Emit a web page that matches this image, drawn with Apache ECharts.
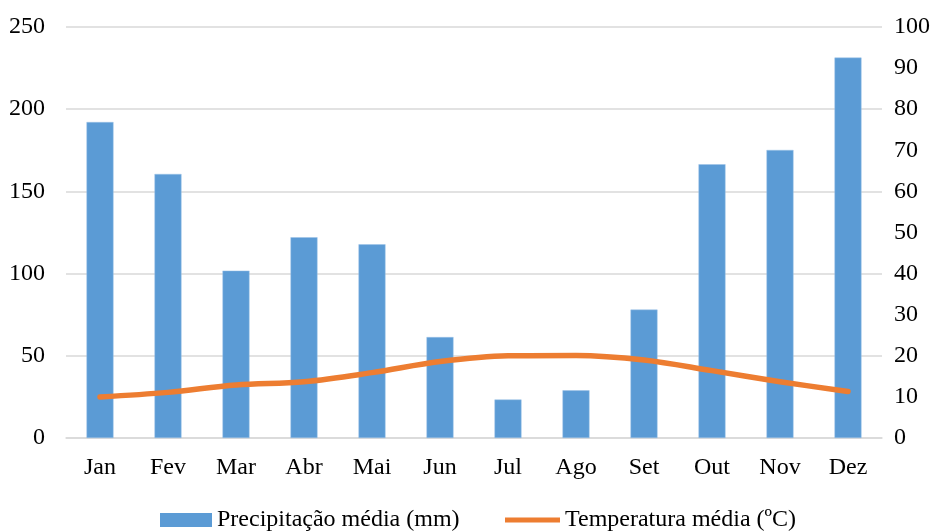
<!DOCTYPE html>
<html>
<head>
<meta charset="utf-8">
<script src="https://cdn.jsdelivr.net/npm/echarts@6/dist/echarts.min.js"></script>
<style>
  html, body { margin: 0; padding: 0; background: #fff; }
  #chart { width: 942px; height: 531px; }
</style>
</head>
<body>
<div id="chart"></div>
<script>
// Monthly climate normals
const months = ['Jan', 'Fev', 'Mar', 'Abr', 'Mai', 'Jun', 'Jul', 'Ago', 'Set', 'Out', 'Nov', 'Dez'];
const precipitation = [192.2, 160.6, 101.8, 122.1, 117.8, 61.4, 23.4, 29.0, 78.1, 166.5, 175.2, 231.4];
const temperature = [10.0, 11.1, 12.9, 13.7, 15.9, 18.6, 20.0, 20.1, 19.0, 16.4, 13.7, 11.3];
const precipTicks = { min: 0, max: 250, interval: 50 };
const tempTicks = { min: 0, max: 100, interval: 10 };

const PRECIP_NAME = 'Precipitação média (mm)';
const TEMP_NAME = 'Temperatura média (ºC)';
const BLUE = '#5B9BD5';
const ORANGE = '#ED7D31';

const font = 'Liberation Serif, Times New Roman, serif';
const textColor = '#000';
const legendText = { fontFamily: font, fontSize: 24, color: textColor };

const chart = echarts.init(document.getElementById('chart'), null, { renderer: 'canvas' });
chart.setOption({
  animation: false,
  backgroundColor: '#fff',
  textStyle: { fontFamily: font },
  grid: { left: 66, right: 60, top: 27, bottom: 93, containLabel: false },
  legend: [
    {
      left: 160, top: 508, padding: 0,
      itemWidth: 52, itemHeight: 14,
      textStyle: legendText,
      data: [{ name: PRECIP_NAME, icon: 'rect', itemStyle: { color: BLUE, borderWidth: 0 } }]
    },
    {
      left: 505, top: 508, padding: 0,
      itemWidth: 55, itemHeight: 5,
      textStyle: legendText,
      data: [{ name: TEMP_NAME, icon: 'rect', itemStyle: { color: ORANGE, borderWidth: 0 } }]
    }
  ],
  xAxis: {
    type: 'category',
    data: months,
    axisLine: { show: true, lineStyle: { color: '#D9D9D9', width: 1.5 } },
    axisTick: { show: false },
    axisLabel: { color: textColor, fontFamily: font, fontSize: 24, margin: 18 }
  },
  yAxis: [
    {
      type: 'value',
      min: precipTicks.min, max: precipTicks.max, interval: precipTicks.interval,
      axisLine: { show: false },
      axisTick: { show: false },
      splitLine: { lineStyle: { color: '#D9D9D9', width: 1.5 } },
      axisLabel: { color: textColor, fontFamily: font, fontSize: 24, margin: 21 }
    },
    {
      type: 'value',
      min: tempTicks.min, max: tempTicks.max, interval: tempTicks.interval,
      position: 'right',
      axisLine: { show: false },
      axisTick: { show: false },
      splitLine: { show: false },
      axisLabel: { color: textColor, fontFamily: font, fontSize: 24, margin: 12 }
    }
  ],
  series: [
    {
      name: PRECIP_NAME,
      type: 'bar',
      data: precipitation,
      barWidth: 27,
      itemStyle: { color: BLUE, borderColor: '#9DC3E6', borderWidth: 0.5 },
      yAxisIndex: 0
    },
    {
      name: TEMP_NAME,
      type: 'line',
      data: temperature,
      yAxisIndex: 1,
      smooth: 0.35,
      symbol: 'none',
      lineStyle: { color: ORANGE, width: 5.5, cap: 'round', join: 'round' },
      itemStyle: { color: ORANGE }
    }
  ]
});
</script>
</body>
</html>
